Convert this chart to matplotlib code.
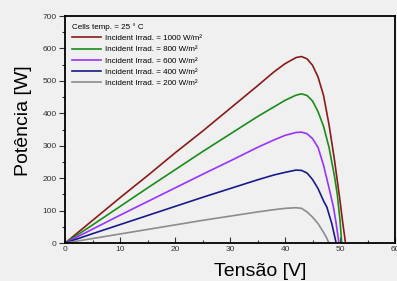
import matplotlib
matplotlib.use("Agg")
import matplotlib.pyplot as plt
from matplotlib.ticker import MultipleLocator

plt.rcParams['font.family'] = ['Liberation Sans', 'DejaVu Sans']

# P-V curves (voltage in V, power in W)
v_1000 = [0, 5, 10, 15, 20, 25, 30, 35, 38, 40, 42, 43, 44, 45, 46, 47, 48, 49, 50, 50.5, 51.0]
p_1000 = [0, 70, 140, 208, 278, 345, 415, 485, 528, 553, 572, 575, 568, 548, 512, 455, 365, 255, 130, 62, 0]

v_800 = [0, 5, 10, 15, 20, 25, 30, 35, 38, 40, 42, 43, 44, 45, 46, 47, 48, 49, 49.5, 50.0, 50.3]
p_800 = [0, 56, 113, 170, 226, 282, 336, 390, 420, 440, 456, 460, 455, 438, 405, 360, 295, 205, 150, 70, 0]

v_600 = [0, 5, 10, 15, 20, 25, 30, 35, 38, 40, 42, 43, 44, 45, 46, 47, 48, 48.8, 49.3, 49.8]
p_600 = [0, 43, 86, 128, 170, 212, 253, 295, 318, 332, 341, 342, 337, 322, 295, 240, 170, 111, 60, 0]

v_400 = [0, 5, 10, 15, 20, 25, 30, 35, 38, 40, 42, 43, 44, 45, 46, 47, 47.6, 48.5, 49.3]
p_400 = [0, 29, 57, 85, 113, 141, 168, 195, 210, 218, 225, 224, 216, 196, 168, 130, 111, 60, 0]

v_200 = [0, 5, 10, 15, 20, 25, 30, 35, 38, 40, 42, 43, 44, 45, 46, 47, 47.5, 48.0]
p_200 = [0, 14, 28, 42, 56, 70, 83, 96, 103, 107, 109, 107, 96, 80, 60, 33, 18, 0]

labels = ["Incident Irrad. = 1000 W/m²", "Incident Irrad. = 800 W/m²",
          "Incident Irrad. = 600 W/m²", "Incident Irrad. = 400 W/m²",
          "Incident Irrad. = 200 W/m²"]
colors = ["#8b1a1a", "#1a8c1a", "#9933ff", "#1a1a8c", "#8c8c8c"]

bg = "#f0f0f0"
fig = plt.figure(figsize=(3.97, 2.81), dpi=100, facecolor=bg)
ax = fig.add_axes([0.164, 0.135, 0.831, 0.808], facecolor=bg)

series = [(v_1000, p_1000), (v_800, p_800), (v_600, p_600), (v_400, p_400), (v_200, p_200)]
for (v, p), lab, c in zip(series, labels, colors):
    ax.plot(v, p, color=c, lw=1.2, label=lab)

ax.set_xlim(0, 60)
ax.set_ylim(0, 700)
ax.xaxis.set_major_locator(MultipleLocator(10))
ax.xaxis.set_minor_locator(MultipleLocator(5))
ax.yaxis.set_major_locator(MultipleLocator(100))
ax.yaxis.set_minor_locator(MultipleLocator(50))
ax.tick_params(which='both', direction='in', labelsize=6, colors='#333333', pad=2)
ax.tick_params(which='major', length=4, width=0.8)
ax.tick_params(which='minor', length=2.5, width=0.8)
ax.tick_params(axis='y', which='both', direction='out')
for s in ax.spines.values():
    s.set_linewidth(1.3)

ax.set_xlabel("Tensão [V]", fontsize=14)
ax.set_ylabel("Potência [W]", fontsize=14)
ax.xaxis.set_label_coords(0.59, -0.09)
ax.yaxis.set_label_coords(-0.10, 0.54)

leg = ax.legend(title="Cells temp. = 25 ° C", loc='upper left', frameon=False,
                fontsize=5.8, title_fontsize=5.8, handlelength=3.5,
                labelspacing=0.45, borderaxespad=0.5, handletextpad=0.6)
leg._legend_box.align = "left"

fig.savefig("out.png", dpi=100, facecolor=bg)
